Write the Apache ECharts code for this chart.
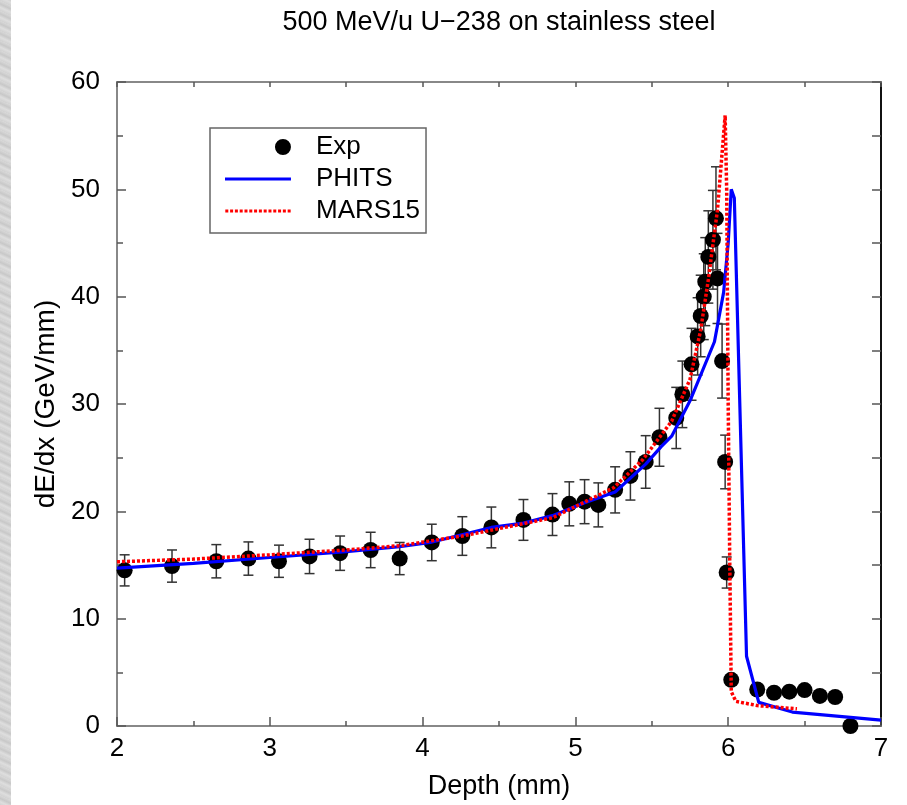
<!DOCTYPE html>
<html><head><meta charset="utf-8">
<script src="https://cdn.jsdelivr.net/npm/echarts@6/dist/echarts.min.js"></script>
<style>
html,body{margin:0;padding:0;background:#fff;}
#strip{position:absolute;left:0;top:0;width:11px;height:805px;background:repeating-linear-gradient(25deg,#d2d2d2 0px,#dedede 3px,#c8c8c8 6px,#d8d8d8 9px);}
#chart{position:absolute;left:0;top:0;width:907px;height:805px;}
</style></head><body>
<div id="strip"></div>
<div id="chart"></div>
<script>
// Experimental data
const expX = [2.05,2.36,2.65,2.86,3.06,3.26,3.46,3.66,3.85,4.06,4.26,4.45,4.66,4.85,4.96,5.06,5.15,5.26,5.36,5.46,5.55,5.66,5.70,5.76,5.80,5.82,5.84,5.85,5.87,5.90,5.92,5.93,5.96,5.98,5.99,6.02,6.19,6.30,6.40,6.50,6.60,6.70,6.80];
const expY = [14.5,14.9,15.35,15.6,15.35,15.8,16.1,16.4,15.6,17.1,17.7,18.5,19.2,19.7,20.7,20.9,20.6,22.0,23.3,24.6,26.9,28.7,30.9,33.7,36.3,38.2,40.0,41.4,43.7,45.3,47.3,41.7,34.0,24.6,14.3,4.3,3.4,3.1,3.2,3.35,2.8,2.7,0.0];
const expErr = [1.45,1.5,1.55,1.55,1.5,1.6,1.6,1.65,1.5,1.7,1.8,1.9,1.9,1.95,2.05,2.05,2.05,2.15,2.25,2.45,2.7,2.85,3.1,3.35,3.6,3.8,4.0,4.1,4.3,4.6,4.8,4.2,3.45,2.5,1.45,0,0,0,0,0,0,0,0];
// PHITS
const phitsX = [2.0,2.5,3.0,3.5,3.85,4.05,4.45,4.66,4.85,5.06,5.26,5.46,5.56,5.63,5.75,5.91,5.97,6.0,6.02,6.04,6.12,6.20,6.42,7.0];
const phitsY = [14.7,15.15,15.7,16.25,16.7,17.1,18.5,18.9,19.6,20.8,21.8,24.4,26.0,27.0,30.3,35.8,40.4,45.0,50.0,49.2,6.5,2.2,1.3,0.55];
// MARS15
const marsX = [2.0,2.5,3.0,3.5,3.85,4.26,4.85,5.25,5.44,5.63,5.75,5.82,5.87,5.93,5.98,5.99,6.0,6.01,6.02,6.05,6.19,6.45];
const marsY = [15.3,15.55,15.95,16.4,16.8,17.7,19.4,22.2,24.8,28.4,32.3,36.9,41.6,48.1,56.9,50.0,30.0,15.5,3.2,2.3,1.9,1.6];

const xTicks = {min:2, max:7, interval:1};
const yTicks = {min:0, max:60, interval:10};

const FONT = 'Liberation Sans, Arial, sans-serif';
const chart = echarts.init(document.getElementById('chart'), null, {renderer:'canvas'});

const errData = expX.map((x,i)=>[x, expY[i]-expErr[i], expY[i]+expErr[i], expErr[i]]).filter(d=>d[3]>0);

// legend icon paths (66 x 16 box)
const dotIcon = 'path://M0,0L0,0.01M0,16L0,16.01M50,8A8,8,0,1,0,66,8A8,8,0,1,0,50,8Z';
const solidIcon = 'path://M0,0L0,0.01M0,16L0,16.01M0,6.5L66,6.5L66,9.5L0,9.5Z';
let dotted = 'path://M0,0L0,0.01M0,16L0,16.01';
for (let k = 0; k < 14; k++) { const x0 = k * 4.8; dotted += 'M' + x0 + ',6.5L' + (x0 + 3) + ',6.5L' + (x0 + 3) + ',9.5L' + x0 + ',9.5Z'; }

function axisCommon(color, majorLen, minorLen){
  return {
    type:'value',
    axisLine:{show:true, onZero:false, lineStyle:{color:color, width:2}},
    axisTick:{show:true, inside:true, length:majorLen, lineStyle:{color:'#555', width:1.5}},
    minorTick:{show:true, splitNumber:2, length:minorLen, lineStyle:{color:'#555', width:1.5}},
    splitLine:{show:false},
    minorSplitLine:{show:false}
  };
}

const option = {
  backgroundColor:'transparent',
  animation:false,
  textStyle:{fontFamily:FONT},
  title:{
    text:'500 MeV/u U\u2212238 on stainless steel',
    left:494, textAlign:'center', top:4,
    textStyle:{fontFamily:FONT, fontSize:27, fontWeight:'normal', color:'#000'}
  },
  grid:{left:117, right:26, top:82, bottom:78, containLabel:false},
  legend:{
    left:210, top:128, orient:'vertical',
    data:[
      {name:'Exp', icon:dotIcon},
      {name:'PHITS', icon:solidIcon},
      {name:'MARS15', icon:dotted}
    ],
    itemWidth:66, itemHeight:16, itemGap:6,
    padding:[6,6,9,15],
    borderColor:'#666', borderWidth:1.5,
    backgroundColor:'#fff',
    textStyle:{fontFamily:FONT, fontSize:26, color:'#000', lineHeight:26, padding:[0,0,0,20]}
  },
  xAxis:[
    Object.assign(axisCommon('#888',9,5), {
      min:xTicks.min, max:xTicks.max, interval:xTicks.interval, position:'bottom',
      axisLabel:{show:true, fontFamily:FONT, fontSize:26, color:'#000', margin:10},
      name:'Depth (mm)', nameLocation:'middle', nameGap:47,
      nameTextStyle:{fontFamily:FONT, fontSize:27, color:'#000'}
    }),
    Object.assign(axisCommon('#888',5,5), {
      min:xTicks.min, max:xTicks.max, interval:xTicks.interval, position:'top',
      axisLabel:{show:false}
    })
  ],
  yAxis:[
    Object.assign(axisCommon('#888',9,6), {
      min:yTicks.min, max:yTicks.max, interval:yTicks.interval, position:'left',
      axisLabel:{show:true, fontFamily:FONT, fontSize:26, color:'#000', margin:17},
      name:'dE/dx (GeV/mm)', nameLocation:'middle', nameGap:54, nameRotate:90,
      nameTextStyle:{fontFamily:FONT, fontSize:28, color:'#000'}
    }),
    Object.assign(axisCommon('#111',9,9), {
      min:yTicks.min, max:yTicks.max, interval:yTicks.interval, position:'right',
      axisLabel:{show:false}
    })
  ],
  series:[
    {
      type:'custom', name:'err', z:1, xAxisIndex:0, yAxisIndex:0,
      data:errData, encode:{x:0, y:[1,2]},
      renderItem:function(params, api){
        const x=api.value(0), lo=api.value(1), hi=api.value(2);
        const p1=api.coord([x,lo]), p2=api.coord([x,hi]);
        const w=5, st={stroke:'#333', lineWidth:1.5};
        return {type:'group', children:[
          {type:'line', shape:{x1:p1[0],y1:p1[1],x2:p2[0],y2:p2[1]}, style:st},
          {type:'line', shape:{x1:p1[0]-w,y1:p1[1],x2:p1[0]+w,y2:p1[1]}, style:st},
          {type:'line', shape:{x1:p2[0]-w,y1:p2[1],x2:p2[0]+w,y2:p2[1]}, style:st}
        ]};
      }
    },
    {
      type:'scatter', name:'Exp', z:2,
      data:expX.map((x,i)=>[x,expY[i]]),
      symbol:'circle', symbolSize:16,
      itemStyle:{color:'#000', opacity:1}
    },
    {
      type:'line', name:'PHITS', z:3,
      data:phitsX.map((x,i)=>[x,phitsY[i]]),
      symbol:'none', showSymbol:false,
      lineStyle:{color:'#0000ff', width:3.2},
      itemStyle:{color:'#0000ff'}
    },
    {
      type:'line', name:'MARS15', z:4,
      data:marsX.map((x,i)=>[x,marsY[i]]),
      symbol:'none', showSymbol:false,
      lineStyle:{color:'#ff0000', width:3.5, type:[3,2]},
      itemStyle:{color:'#ff0000'}
    }
  ]
};
chart.setOption(option);
</script>
</body></html>
